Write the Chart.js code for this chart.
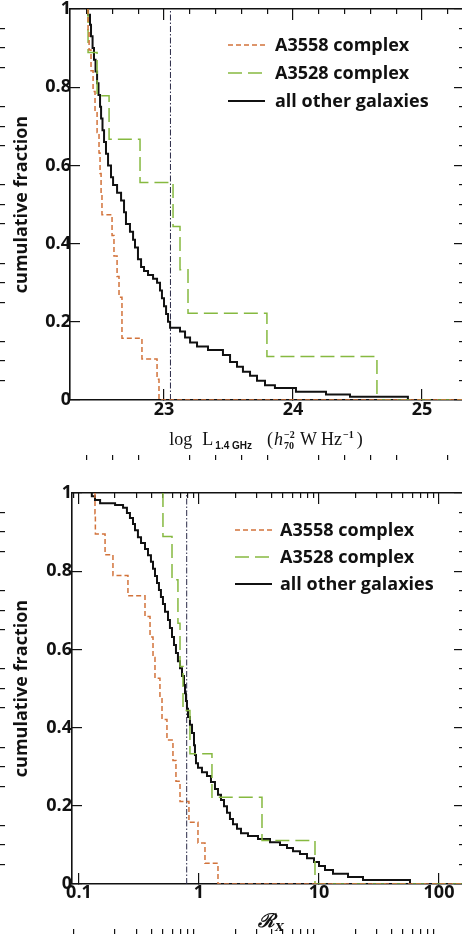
<!DOCTYPE html>
<html><head><meta charset="utf-8">
<script src="https://cdn.jsdelivr.net/npm/chart.js@4.4.0/dist/chart.umd.min.js"></script>
<style>
html,body{margin:0;padding:0;background:#fff;overflow:hidden;width:462px;height:934px;}
#p1{position:absolute;left:0;top:0;width:470px;height:460px;}
#p2{position:absolute;left:0;top:470px;width:470px;height:464px;}
</style></head><body>
<div id="p1"><canvas id="c1"></canvas></div>
<div id="p2"><canvas id="c2"></canvas></div>
<script>
// ---------- data ----------
const seriesNames = ['A3558 complex', 'A3528 complex', 'all other galaxies'];

// Top panel: log L(1.4GHz) where each step drops, and cumulative fraction after the drop
const lumA3558  = [22.411,22.419,22.434,22.450,22.465,22.481,22.496,22.504,22.512,22.519,22.597,22.612,22.636,22.651,22.674,22.674,22.829,22.946,22.961];
const fracA3558 = [0.947,0.895,0.842,0.789,0.737,0.684,0.632,0.579,0.526,0.474,0.421,0.368,0.316,0.263,0.211,0.158,0.105,0.053,0];
const lumA3528  = [22.411,22.481,22.574,22.814,23.070,23.124,23.186,23.798,24.651];
const fracA3528 = [0.889,0.778,0.667,0.556,0.444,0.333,0.222,0.111,0];
const lumOther  = [22.411,22.426,22.434,22.446,22.457,22.469,22.481,22.492,22.504,22.512,22.523,22.535,22.550,22.566,22.589,22.605,22.636,22.667,22.690,22.705,22.736,22.760,22.775,22.798,22.822,22.845,22.876,22.915,22.946,22.969,22.984,23.000,23.016,23.031,23.047,23.124,23.163,23.202,23.256,23.341,23.457,23.512,23.566,23.612,23.667,23.721,23.783,23.860,24.023,24.256,24.442,24.891];
const fracOther = [0.985,0.96,0.93,0.90,0.87,0.84,0.81,0.78,0.75,0.72,0.69,0.66,0.63,0.60,0.57,0.55,0.53,0.51,0.48,0.45,0.43,0.41,0.39,0.36,0.34,0.33,0.32,0.31,0.30,0.28,0.26,0.24,0.22,0.20,0.185,0.175,0.16,0.147,0.137,0.128,0.115,0.097,0.085,0.072,0.062,0.049,0.038,0.031,0.021,0.014,0.008,0];
const lumDivider = 23.05;

// Bottom panel: R_X where each step drops, and cumulative fraction after the drop
const rxA3558  = [0.136,0.137,0.165,0.192,0.256,0.355,0.391,0.414,0.430,0.473,0.492,0.541,0.607,0.643,0.695,0.825,0.981,1.122,1.440];
const fracRxA3558 = [0.947,0.895,0.842,0.789,0.737,0.684,0.632,0.579,0.526,0.474,0.421,0.368,0.316,0.263,0.211,0.158,0.105,0.053,0];
const rxA3528  = [0.501,0.596,0.668,0.695,0.736,0.841,1.283,3.35,9.26];
const fracRxA3528 = [0.889,0.778,0.667,0.556,0.444,0.333,0.222,0.111,0];
const rxOther  = [0.128,0.136,0.150,0.200,0.233,0.251,0.266,0.282,0.293,0.310,0.329,0.355,0.376,0.398,0.414,0.430,0.447,0.464,0.482,0.501,0.521,0.552,0.573,0.596,0.619,0.643,0.668,0.695,0.722,0.750,0.765,0.779,0.794,0.810,0.841,0.875,0.909,0.926,0.944,0.981,1.059,1.166,1.259,1.359,1.440,1.525,1.616,1.711,1.812,1.920,2.074,2.239,2.560,3.102,3.906,4.732,5.412,6.070,6.944,7.943,9.087,10.0,11.22,13.08,17.45,23.26,57.3];
const fracRxOther = [0.992,0.982,0.974,0.969,0.962,0.949,0.936,0.921,0.905,0.887,0.872,0.857,0.841,0.824,0.806,0.788,0.770,0.752,0.734,0.716,0.696,0.675,0.655,0.632,0.611,0.591,0.570,0.552,0.532,0.509,0.488,0.468,0.448,0.427,0.407,0.386,0.355,0.330,0.309,0.297,0.286,0.276,0.261,0.243,0.228,0.215,0.199,0.182,0.166,0.153,0.141,0.130,0.123,0.115,0.107,0.100,0.092,0.084,0.077,0.066,0.056,0.046,0.036,0.026,0.018,0.010,0];
const rxDivider = 0.79;

// axes / tick labels
const lumRange = [22.271, 25.326];
const rxRange = [0.0875, 161.5];
const lumTicks = [23, 24, 25];
const rxTicks = [0.1, 1, 10, 100];
const fracTicks = [0, 0.2, 0.4, 0.6, 0.8, 1];
const yTitle = 'cumulative fraction';

// ---------- styling ----------
const COL = ['#d2733b', '#86b940', '#111111'];
const DASH = [[5, 3], [14, 6], []];
const WID = [1.5, 1.5, 2];
const SANS = "'Open Sans', 'DejaVu Sans', sans-serif";
const TICKFONT = {family: SANS, weight: 'bold', size: 18, lineHeight: 1.2};
const serif = "'Liberation Serif', 'DejaVu Serif', serif";

function stepPoints(xs, fr, xEnd) {
  const pts = [{x: xs[0], y: 1}];
  xs.forEach((v, i) => pts.push({x: v, y: fr[i]}));
  pts.push({x: xEnd, y: 0});
  return pts;
}

function drawText(chart, o) {
  const ctx = chart.ctx, a = chart.chartArea;
  ctx.save();
  for (let i = 0; i < 3; i++) {
    const ds = chart.data.datasets[i];
    const yy = o.key.y + i * o.key.dy;
    ctx.strokeStyle = ds.borderColor;
    ctx.lineWidth = ds.borderWidth;
    ctx.setLineDash(ds.borderDash || []);
    ctx.beginPath(); ctx.moveTo(o.key.x, yy); ctx.lineTo(o.key.x + o.key.len, yy); ctx.stroke();
    ctx.setLineDash([]);
    ctx.fillStyle = '#111';
    ctx.font = 'bold 18px ' + SANS;
    ctx.textBaseline = 'middle'; ctx.textAlign = 'left';
    ctx.fillText(ds.label, o.key.textX, yy + 1);
  }
  ctx.restore();
  ctx.save();
  ctx.fillStyle = '#111';
  ctx.font = 'bold 18px ' + SANS;
  ctx.textAlign = 'center'; ctx.textBaseline = 'alphabetic';
  ctx.translate(o.yTitleX, (a.top + a.bottom) / 2);
  ctx.rotate(-Math.PI / 2);
  ctx.fillText(o.yTitle, 0, 0);
  ctx.restore();
  ctx.save();
  ctx.fillStyle = '#111'; ctx.textAlign = 'left'; ctx.textBaseline = 'alphabetic';
  let total = 0;
  o.xParts.forEach(p => { ctx.font = p.f; p.w = ctx.measureText(p.t).width; if (!p.hold) total += p.w + (p.g || 0); });
  let xx = o.xCX - total / 2;
  o.xParts.forEach(p => {
    ctx.font = p.f;
    ctx.fillText(p.t, xx, o.xBase + (p.dy || 0));
    if (!p.hold) xx += p.w + (p.g || 0);
  });
  ctx.restore();
}

function makeDecor(o) {
  return {id: 'decor', afterDraw(chart) { try { drawText(chart, o); } catch (e) {} }};
}

// native axis: inward ticks via negative tickLength
function axis(dir, position, type, range, values, len, size, labels, pad, border) {
  const vals = values.filter(v => v >= range[0] && v <= range[1]);
  return {
    axis: dir, position: position, type: type, min: range[0], max: range[1],
    afterBuildTicks: s => { s.ticks = vals.map(v => ({value: v})); },
    afterFit: s => {
      if (dir === 'x') s.height = size; else s.width = size;
      s.paddingTop = 0; s.paddingBottom = 0; s.paddingLeft = 0; s.paddingRight = 0;
    },
    grid: {display: true, drawOnChartArea: false, drawTicks: true, tickLength: -len,
      color: '#111', lineWidth: 1.2, tickColor: '#111', tickWidth: 1.2},
    border: {display: border, color: '#111', width: 1.6},
    ticks: labels ? Object.assign({display: true, font: TICKFONT, color: '#111', padding: pad, maxRotation: 0, autoSkip: false}, labels)
                  : {display: false}
  };
}

function styled(list) {
  return list.map((d, i) => i < 3
    ? Object.assign(d, {borderColor: COL[i], borderWidth: WID[i], borderDash: DASH[i].slice(), showLine: true, stepped: true, pointRadius: 0, xAxisID: 'x', yAxisID: 'y'})
    : Object.assign(d, {xAxisID: 'x', yAxisID: 'y'}));
}

const yMinor = [];
for (let k = 0; k <= 20; k++) if (k % 4) yMinor.push(k * 0.05);
const fracLabel = {callback: v => (v === 0 || v === 1) ? String(v) : v.toFixed(1)};
const plainLabel = {callback: v => String(v)};

function scalesFor(type, range, major, minor, xSize, ySize, xPad, yPad) {
  return {
    x:   axis('x', 'bottom', type, range, major, 11, xSize, plainLabel, xPad, true),
    y:   axis('y', 'left', 'linear', [0, 1], fracTicks, 10, ySize, fracLabel, yPad, true),
    xb2: axis('x', 'bottom', type, range, minor, 5, 0, null, 0, false),
    xt1: axis('x', 'top', type, range, major, 11, 0, null, 0, true),
    xt2: axis('x', 'top', type, range, minor, 5, 0, null, 0, false),
    yl2: axis('y', 'left', 'linear', [0, 1], yMinor, 5, 0, null, 0, false),
    yr1: axis('y', 'right', 'linear', [0, 1], fracTicks, 10, 0, null, 0, true),
    yr2: axis('y', 'right', 'linear', [0, 1], yMinor, 5, 0, null, 0, false)
  };
}

// ---------- top chart ----------
const lumMinor = [];
for (let k = 0; k < 16; k++) { const v = Math.round((22.2 + 0.2 * k) * 10) / 10; if (Math.abs(v - Math.round(v)) > 1e-6) lumMinor.push(v); }

new Chart(document.getElementById('c1'), {
  type: 'scatter',
  data: {datasets: styled([
    {label: seriesNames[0], data: stepPoints(lumA3558, fracA3558, lumRange[1])},
    {label: seriesNames[1], data: stepPoints(lumA3528, fracA3528, lumRange[1])},
    {label: seriesNames[2], data: stepPoints(lumOther, fracOther, lumRange[1])},
    {label: 'divider', data: [{x: lumDivider, y: 0}, {x: lumDivider, y: 1}], borderColor: '#2a2a48', borderWidth: 1, borderDash: [6, 2, 1.5, 2], showLine: true, pointRadius: 0}
  ])},
  options: {
    animation: false, responsive: true, maintainAspectRatio: false, devicePixelRatio: 1,
    layout: {padding: {top: 9, right: 6, left: 0, bottom: 0}},
    scales: scalesFor('linear', lumRange, lumTicks, lumMinor, 60, 70, 10, 9),
    plugins: {legend: {display: false}, tooltip: {enabled: false}}
  },
  plugins: [makeDecor({
    key: {x: 228, y: 45, dy: 28, len: 37, textX: 275},
    yTitle: yTitle, yTitleX: 27, xCX: 266, xBase: 445,
    xParts: [
      {t: 'log', f: '18px ' + serif, g: 10},
      {t: 'L', f: '18px ' + serif, g: 2},
      {t: '1.4 GHz', f: "bold 10px 'Liberation Sans', sans-serif", dy: 4, g: 15},
      {t: '(', f: '18px ' + serif, g: 1},
      {t: 'h', f: 'italic 18px ' + serif, g: 1},
      {t: '\u22122', f: 'bold 10px ' + serif, dy: -7, hold: true},
      {t: '70', f: 'bold 10px ' + serif, dy: 4, g: 6},
      {t: 'W', f: '18px ' + serif, g: 4},
      {t: 'Hz', f: '18px ' + serif, g: 1},
      {t: '\u22121', f: 'bold 10px ' + serif, dy: -7, g: 3},
      {t: ')', f: '18px ' + serif, g: 0}
    ]
  })]
});

// ---------- bottom chart ----------
const rxMinor = [];
[0.01, 0.1, 1, 10, 100].forEach(d => { for (let k = 2; k <= 9; k++) rxMinor.push(k * d); });

new Chart(document.getElementById('c2'), {
  type: 'scatter',
  data: {datasets: styled([
    {label: seriesNames[0], data: stepPoints(rxA3558, fracRxA3558, rxRange[1])},
    {label: seriesNames[1], data: stepPoints(rxA3528, fracRxA3528, rxRange[1])},
    {label: seriesNames[2], data: stepPoints(rxOther, fracRxOther, rxRange[1])},
    {label: 'divider', data: [{x: rxDivider, y: 0}, {x: rxDivider, y: 1}], borderColor: '#2a2a48', borderWidth: 1, borderDash: [6, 2, 1.5, 2], showLine: true, pointRadius: 0}
  ])},
  options: {
    animation: false, responsive: true, maintainAspectRatio: false, devicePixelRatio: 1,
    layout: {padding: {top: 23, right: 6, left: 0, bottom: 0}},
    scales: scalesFor('logarithmic', rxRange, rxTicks, rxMinor, 50, 72, 9, 10),
    plugins: {legend: {display: false}, tooltip: {enabled: false}}
  },
  plugins: [makeDecor({
    key: {x: 235, y: 60, dy: 27, len: 37, textX: 280},
    yTitle: yTitle, yTitleX: 27, xCX: 271, xBase: 457,
    xParts: [
      {t: '\u211B', f: "italic bold 19px 'DejaVu Serif', serif", g: 0},
      {t: 'X', f: "italic bold 11px 'DejaVu Serif', serif", dy: 4, g: 0}
    ]
  })]
});
</script>
</body></html>
